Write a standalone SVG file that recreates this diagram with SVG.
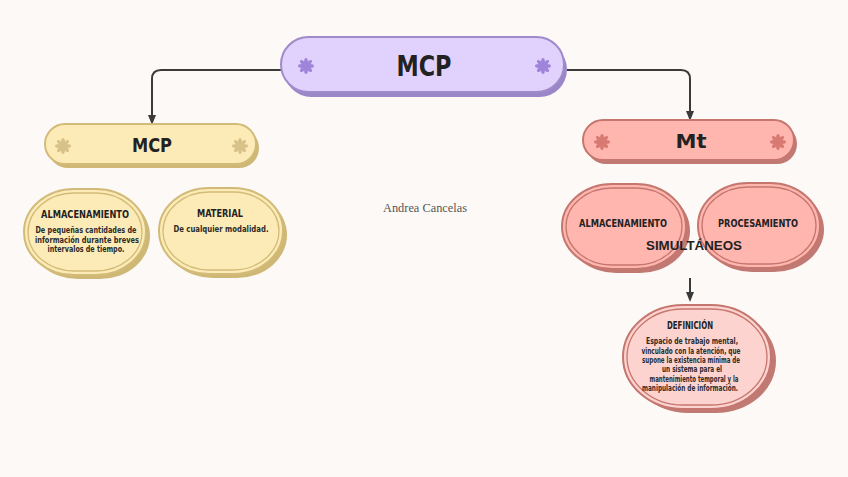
<svg xmlns="http://www.w3.org/2000/svg" width="848" height="477" viewBox="0 0 848 477">
<defs>
<style>
.bg{fill:#fdf9f6}
.conn{fill:none;stroke:#3a3a3a;stroke-width:2}
.pS{fill:#9b86c8}.pM{fill:#e1d1fd;stroke:#9f8bca;stroke-width:2}
.yS{fill:#cfb875}.yM{fill:#fcebb7;stroke:#d2bb78;stroke-width:2}.yI{fill:none;stroke:#d2bb78;stroke-width:1.3}
.rS{fill:#c17a73}.rM{fill:#ffb6ae;stroke:#c5766f;stroke-width:2}.rI{fill:none;stroke:#c5766f;stroke-width:1.3}
.dM{fill:#fdd3cf;stroke:#c5766f;stroke-width:2}
.title{font-family:"DejaVu Sans","Liberation Sans",sans-serif;font-weight:bold;fill:#222;text-anchor:middle}
.head{font-family:"DejaVu Sans Condensed","DejaVu Sans",sans-serif;font-weight:bold;fill:#222;text-anchor:middle}
.body{font-family:"DejaVu Sans Condensed","DejaVu Sans",sans-serif;font-weight:bold;font-size:8px;fill:#2b2b2b;text-anchor:middle}
</style>
<g id="flower">
<ellipse cx="0" cy="-4" rx="1.9" ry="4"/>
<ellipse cx="0" cy="-4" rx="1.9" ry="4" transform="rotate(45)"/>
<ellipse cx="0" cy="-4" rx="1.9" ry="4" transform="rotate(90)"/>
<ellipse cx="0" cy="-4" rx="1.9" ry="4" transform="rotate(135)"/>
<ellipse cx="0" cy="-4" rx="1.9" ry="4" transform="rotate(180)"/>
<ellipse cx="0" cy="-4" rx="1.9" ry="4" transform="rotate(225)"/>
<ellipse cx="0" cy="-4" rx="1.9" ry="4" transform="rotate(270)"/>
<ellipse cx="0" cy="-4" rx="1.9" ry="4" transform="rotate(315)"/>
</g>
<marker id="arr" viewBox="0 0 10 10" refX="5" refY="5" markerWidth="5" markerHeight="5" orient="auto">
<path d="M0,1 L10,5 L0,9 Z" fill="#3a3a3a"/>
</marker>
</defs>
<rect class="bg" x="0" y="0" width="848" height="477"/>

<g id="connectors">
<path class="conn" d="M281,70 H161 Q152,70 152,79 V120" marker-end="url(#arr)"/>
<path class="conn" d="M567,70 H681 Q690,70 690,79 V116" marker-end="url(#arr)"/>
<path class="conn" d="M690,278 V297" marker-end="url(#arr)"/>
</g>

<g id="node-mcp-top">
<rect class="pS" x="284" y="42" width="283" height="55" rx="27.5"/>
<rect class="pM" x="281" y="37" width="283" height="55" rx="27.5"/>
<use href="#flower" x="306" y="66" fill="#9f85d9"/>
<use href="#flower" x="543" y="66" fill="#9f85d9"/>
<text class="title" x="424" y="76" font-size="29" textLength="55" lengthAdjust="spacingAndGlyphs">MCP</text>
</g>

<g id="node-mcp">
<rect class="yS" x="48" y="128" width="211" height="40" rx="20"/>
<rect class="yM" x="45" y="124" width="211" height="40" rx="20"/>
<use href="#flower" x="63" y="146" fill="#d8c28a"/>
<use href="#flower" x="240" y="146" fill="#d8c28a"/>
<text class="title" x="152" y="152" font-size="20" textLength="40" lengthAdjust="spacingAndGlyphs">MCP</text>
</g>

<g id="node-mt">
<rect class="rS" x="586" y="124" width="211" height="40" rx="20"/>
<rect class="rM" x="583" y="120" width="211" height="40" rx="20"/>
<use href="#flower" x="602" y="142" fill="#d77a72"/>
<use href="#flower" x="778" y="142" fill="#d77a72"/>
<text class="title" x="691" y="148" font-size="20" textLength="31" lengthAdjust="spacingAndGlyphs">Mt</text>
</g>

<g id="node-almacenamiento-mcp">
<rect class="yS" x="28" y="193" width="122" height="86" rx="50" ry="43"/>
<rect class="yM" x="24" y="189" width="122" height="86" rx="50" ry="43"/>
<rect class="yI" x="28" y="193" width="114" height="78" rx="46" ry="39"/>
<text class="head" x="85" y="218" font-size="10.5" textLength="88" lengthAdjust="spacingAndGlyphs">ALMACENAMIENTO</text>
<text class="body" x="86" y="233" textLength="101" lengthAdjust="spacingAndGlyphs">De pequeñas cantidades de</text>
<text class="body" x="87" y="243" textLength="104" lengthAdjust="spacingAndGlyphs">información durante breves</text>
<text class="body" x="86" y="252" textLength="77" lengthAdjust="spacingAndGlyphs">intervalos de tiempo.</text>
</g>

<g id="node-material">
<rect class="yS" x="163" y="192" width="124" height="86" rx="50" ry="43"/>
<rect class="yM" x="159" y="188" width="124" height="86" rx="50" ry="43"/>
<rect class="yI" x="163" y="192" width="116" height="78" rx="46" ry="39"/>
<text class="head" x="220" y="217" font-size="10.5" textLength="46" lengthAdjust="spacingAndGlyphs">MATERIAL</text>
<text class="body" x="221" y="232" textLength="95" lengthAdjust="spacingAndGlyphs">De cualquier modalidad.</text>
</g>

<g id="node-almacenamiento-mt">
<rect class="rS" x="566" y="188" width="124" height="85" rx="50" ry="42.5"/>
<rect class="rM" x="562" y="184" width="124" height="85" rx="50" ry="42.5"/>
<rect class="rI" x="566" y="188" width="116" height="77" rx="46" ry="38.5"/>
<text class="head" x="623" y="227" font-size="10.5" textLength="88" lengthAdjust="spacingAndGlyphs">ALMACENAMIENTO</text>
</g>

<g id="node-procesamiento">
<rect class="rS" x="702" y="187" width="122" height="85" rx="50" ry="42.5"/>
<rect class="rM" x="698" y="183" width="122" height="85" rx="50" ry="42.5"/>
<rect class="rI" x="702" y="187" width="114" height="77" rx="46" ry="38.5"/>
<text class="head" x="758" y="227" font-size="10.5" textLength="80" lengthAdjust="spacingAndGlyphs">PROCESAMIENTO</text>
</g>

<text x="694" y="249.5" font-family="'Liberation Sans',Arial,sans-serif" font-weight="bold" font-size="12.5" fill="#222" text-anchor="middle" textLength="96" lengthAdjust="spacingAndGlyphs">SIMULTÁNEOS</text>

<g id="node-definicion">
<rect class="rS" x="628" y="309" width="148" height="104" rx="60" ry="52"/>
<rect class="dM" x="623" y="305" width="148" height="104" rx="60" ry="52"/>
<rect class="rI" x="627" y="309" width="140" height="96" rx="56" ry="48"/>
<text class="head" x="690" y="329" font-size="11" textLength="46" lengthAdjust="spacingAndGlyphs">DEFINICIÓN</text>
<text class="body" x="692" y="344" textLength="92" lengthAdjust="spacingAndGlyphs">Espacio de trabajo mental,</text>
<text class="body" x="691" y="354" textLength="99" lengthAdjust="spacingAndGlyphs">vinculado con la atención, que</text>
<text class="body" x="691" y="363" textLength="98" lengthAdjust="spacingAndGlyphs">supone la existencia mínima de</text>
<text class="body" x="692" y="372" textLength="60" lengthAdjust="spacingAndGlyphs">un sistema para el</text>
<text class="body" x="694" y="382" textLength="89" lengthAdjust="spacingAndGlyphs">mantenimiento temporal y la</text>
<text class="body" x="690" y="391" textLength="96" lengthAdjust="spacingAndGlyphs">manipulación de información.</text>
</g>

<text x="425" y="211.5" font-family="'Liberation Serif','Times New Roman',serif" font-size="13" fill="#555" text-anchor="middle" textLength="84" lengthAdjust="spacingAndGlyphs">Andrea Cancelas</text>
</svg>
